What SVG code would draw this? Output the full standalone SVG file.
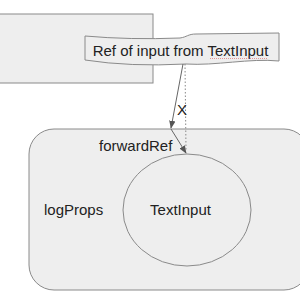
<svg xmlns="http://www.w3.org/2000/svg" width="300" height="300" viewBox="0 0 300 300">
<defs>
<style>
.box{fill:#eeeeee;stroke:#8a8a8a;stroke-width:1}
.txt{font-family:"Liberation Sans",Arial,sans-serif;font-size:15px;fill:#222}
.edge{fill:none;stroke:#666;stroke-width:1}
.dot{fill:none;stroke:#888;stroke-width:1;stroke-dasharray:1.5 2}
</style>
<marker id="ah" viewBox="0 0 10 10" refX="9" refY="5" markerWidth="8" markerHeight="8" orient="auto" markerUnits="userSpaceOnUse">
<path d="M0,1 L10,5 L0,9 Z" fill="#555"/>
</marker>
</defs>
<g id="outer-top">
<rect class="box" x="-1" y="14" width="154" height="69"/>
</g>
<g id="container">
<rect class="box" x="29" y="129" width="280" height="161" rx="25"/>
<text class="txt" x="99" y="151">forwardRef</text>
<text class="txt" x="44" y="215">logProps</text>
</g>
<g id="textinput">
<ellipse class="box" cx="187" cy="210" rx="64" ry="56"/>
<text class="txt" x="180.5" y="215" text-anchor="middle">TextInput</text>
</g>
<g id="ref-banner">
<path d="M85,36 Q130,40 180,38 C187,37 188,34 196,34 L279,33 L279,61 C250,58 215,66 186,64 Q130,67 85,60 Z" fill="#eeeeee" stroke="#8a8a8a" stroke-width="1"/>
<text class="txt" x="180.5" y="55.5" text-anchor="middle">Ref of input from TextInput</text>
<line x1="210" y1="58.5" x2="268" y2="58.5" stroke="#e08080" stroke-width="0.8" stroke-dasharray="1 1"/>
</g>
<g id="connectors">
<line class="edge" x1="183" y1="64" x2="171" y2="128" marker-end="url(#ah)"/>
<line class="edge" x1="171" y1="129" x2="186" y2="153" marker-end="url(#ah)"/>
<line class="dot" x1="185" y1="64" x2="186" y2="150"/>
<text class="txt" x="177" y="115" font-size="14">X</text>
</g>
</svg>
